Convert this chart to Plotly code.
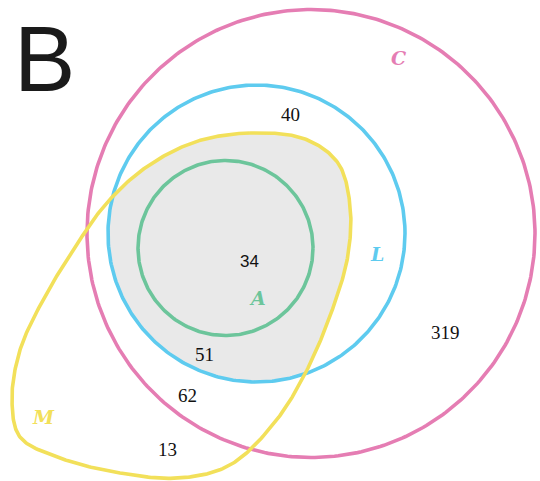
import numpy as np
import plotly.graph_objects as go

# Circular sets: name, centre x, centre y, radius (drawing units), colour
circle_names = ["C", "L", "A"]
circle_cx = [311.0, 256.5, 225.5]
circle_cy = [233.5, 233.5, 248.0]
circle_r = [224.0, 148.5, 87.5]
circle_colors = ["#e57db3", "#5ecbef", "#6cc59b"]

# Free-form set M: control points of a closed smooth outline
m_x = [250, 305, 338, 350, 348, 334, 307, 275, 230, 180, 120, 60, 20, 12, 20, 43, 72, 105, 145, 195]
m_y = [133, 139, 163, 205, 255, 305, 370, 422, 465, 478, 473, 458, 437, 400, 350, 300, 252, 205, 168, 142]
m_color = "#f2e05a"

# Region counts and their label positions
counts = ["40", "34", "319", "51", "62", "13"]
count_x = [290, 249, 445, 204, 187, 167]
count_y = [114, 261, 332, 354, 395, 449]
count_fonts = ["Liberation Serif, Times New Roman, serif", "Liberation Sans, Arial, sans-serif",
               "Liberation Serif, Times New Roman, serif", "Liberation Serif, Times New Roman, serif",
               "Liberation Serif, Times New Roman, serif", "Liberation Serif, Times New Roman, serif"]

# Set name labels
set_labels = ["C", "L", "A", "M"]
set_label_x = [398, 377, 257, 43]
set_label_y = [58, 254, 298, 417]
set_label_colors = ["#e57db3", "#5ecbef", "#6cc59b", "#f2e05a"]

W, H = 540, 481


def closed_centripetal_spline(xs, ys, n=30, alpha=0.5):
    p = np.column_stack([xs, ys]).astype(float)
    k = len(p)
    out = []
    for i in range(k):
        p0, p1, p2, p3 = p[(i - 1) % k], p[i], p[(i + 1) % k], p[(i + 2) % k]
        t0 = 0.0
        t1 = t0 + np.linalg.norm(p1 - p0) ** alpha
        t2 = t1 + np.linalg.norm(p2 - p1) ** alpha
        t3 = t2 + np.linalg.norm(p3 - p2) ** alpha
        t = np.linspace(t1, t2, n, endpoint=False)[:, None]
        a1 = (t1 - t) / (t1 - t0) * p0 + (t - t0) / (t1 - t0) * p1
        a2 = (t2 - t) / (t2 - t1) * p1 + (t - t1) / (t2 - t1) * p2
        a3 = (t3 - t) / (t3 - t2) * p2 + (t - t2) / (t3 - t2) * p3
        b1 = (t2 - t) / (t2 - t0) * a1 + (t - t0) / (t2 - t0) * a2
        b2 = (t3 - t) / (t3 - t1) * a2 + (t - t1) / (t3 - t1) * a3
        out.append((t2 - t) / (t2 - t1) * b1 + (t - t1) / (t2 - t1) * b2)
    out = np.vstack(out)
    return np.vstack([out, out[:1]])


def circle_pts(cx, cy, r, n=360):
    a = np.linspace(0, 2 * np.pi, n + 1)
    return np.column_stack([cx + r * np.cos(a), cy + r * np.sin(a)])


def clip_convex(subject, clip):
    # Sutherland-Hodgman clipping against a convex polygon (counter-clockwise)
    def inside(p, a, b):
        return (b[0] - a[0]) * (p[1] - a[1]) - (b[1] - a[1]) * (p[0] - a[0]) >= 0

    def intersect(p, q, a, b):
        d1 = q - p
        d2 = b - a
        den = d1[0] * d2[1] - d1[1] * d2[0]
        t = ((a[0] - p[0]) * d2[1] - (a[1] - p[1]) * d2[0]) / den
        return p + t * d1

    out = list(subject[:-1])
    c = clip[:-1]
    for i in range(len(c)):
        a, b = c[i], c[(i + 1) % len(c)]
        inp = out
        out = []
        if not inp:
            break
        s = inp[-1]
        for e in inp:
            if inside(e, a, b):
                if not inside(s, a, b):
                    out.append(intersect(s, e, a, b))
                out.append(e)
            elif inside(s, a, b):
                out.append(intersect(s, e, a, b))
            s = e
    out = np.array(out)
    return np.vstack([out, out[:1]])


m_outline = closed_centripetal_spline(m_x, m_y)
l_idx = circle_names.index("L")
l_circle = circle_pts(circle_cx[l_idx], circle_cy[l_idx], circle_r[l_idx])
shaded = clip_convex(m_outline, l_circle)

fig = go.Figure()

# Shaded region: inside both L and M
fig.add_trace(go.Scatter(x=shaded[:, 0], y=shaded[:, 1], mode="lines", fill="toself",
                         fillcolor="#e9e9e9", line=dict(width=0), hoverinfo="skip"))

for name, cx, cy, r, col in zip(circle_names, circle_cx, circle_cy, circle_r, circle_colors):
    pts = circle_pts(cx, cy, r)
    fig.add_trace(go.Scatter(x=pts[:, 0], y=pts[:, 1], mode="lines",
                             line=dict(color=col, width=3.6), name=name, hoverinfo="skip"))

fig.add_trace(go.Scatter(x=m_outline[:, 0], y=m_outline[:, 1], mode="lines",
                         line=dict(color=m_color, width=3.6), name="M", hoverinfo="skip"))

annotations = []
for txt, x, y, fam in zip(counts, count_x, count_y, count_fonts):
    annotations.append(dict(x=x, y=y, text=txt, showarrow=False, xref="x", yref="y",
                            font=dict(family=fam, size=19 if "Serif" in fam else 17,
                                      color="#111111")))
for txt, x, y, col in zip(set_labels, set_label_x, set_label_y, set_label_colors):
    annotations.append(dict(x=x, y=y, text=txt, showarrow=False, xref="x", yref="y",
                            font=dict(family="DejaVu Serif", size=19, color=col,
                                      weight="bold", style="italic")))
annotations.append(dict(x=12, y=6, text="B", showarrow=False, xref="x", yref="y",
                        xanchor="left", yanchor="top",
                        font=dict(family="Liberation Sans", size=92, color="#1a1a1a")))

fig.update_layout(
    width=W, height=H, margin=dict(l=0, r=0, t=0, b=0),
    paper_bgcolor="white", plot_bgcolor="white", showlegend=False,
    xaxis=dict(range=[0, W], visible=False, fixedrange=True),
    yaxis=dict(range=[H, 0], visible=False, fixedrange=True),
    annotations=annotations,
)

fig.write_html("out.html")
